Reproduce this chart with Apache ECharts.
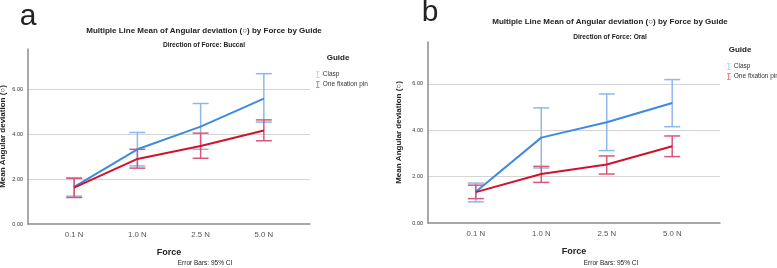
<!DOCTYPE html>
<html>
<head>
<meta charset="utf-8">
<script src="https://cdn.jsdelivr.net/npm/echarts@6/dist/echarts.min.js"></script>
<style>
  html, body { margin: 0; padding: 0; background: #fff; }
  #chart { width: 777px; height: 268px; }
</style>
</head>
<body>
<div id="chart"></div>
<script>
// 数据
var forces = ['0.1 N', '1.0 N', '2.5 N', '5.0 N'];
var guides = ['Clasp', 'One fixation pin'];

// a: Buccal
var buccalClaspMean = [1.65, 3.33, 4.34, 5.59];
var buccalClaspLow  = [1.24, 2.59, 3.33, 4.54];
var buccalClaspHigh = [2.05, 4.08, 5.37, 6.70];
var buccalPinMean   = [1.62, 2.90, 3.48, 4.17];
var buccalPinLow    = [1.18, 2.49, 2.93, 3.71];
var buccalPinHigh   = [2.04, 3.33, 4.05, 4.64];

// b: Oral
var oralClaspMean = [1.35, 3.68, 4.34, 5.17];
var oralClaspLow  = [0.91, 2.37, 3.12, 4.15];
var oralClaspHigh = [1.72, 4.96, 5.56, 6.18];
var oralPinMean   = [1.33, 2.11, 2.52, 3.31];
var oralPinLow    = [1.05, 1.75, 2.11, 2.86];
var oralPinHigh   = [1.63, 2.44, 2.89, 3.75];

var yTicks = [0, 2, 4, 6];

var blueLine = '#3f8ae0', blueBar = '#8fb8ea';
var redLine = '#d0122c', redBar = '#d9587a';
var font = '"Liberation Sans", Arial, sans-serif';

function points(mean){
    let out = [];
    for(let i=0;i<mean.length;i++){
        out.push([i, mean[i]]);
    }
    return out;
}
function bars(low, high){
    let out = [];
    for(let i=0;i<low.length;i++){
        out.push([i, low[i], high[i]]);
    }
    return out;
}

// 误差线
function errorSeries(name, idx, low, high, color){
    return {
        name: name,
        type: 'custom',
        xAxisIndex: idx,
        yAxisIndex: idx,
        z: 2,
        silent: true,
        encode: { x: 0, y: [1, 2] },
        data: bars(low, high),
        renderItem: function(params, api){
            let x = api.value(0);
            let lo = api.coord([x, api.value(1)]);
            let hi = api.coord([x, api.value(2)]);
            let w = 8;
            let st = { stroke: color, lineWidth: 1.5 };
            return {
                type: 'group',
                children: [
                    { type: 'line', shape: { x1: lo[0], y1: lo[1], x2: hi[0], y2: hi[1] }, style: st },
                    { type: 'line', shape: { x1: hi[0]-w, y1: hi[1], x2: hi[0]+w, y2: hi[1] }, style: st },
                    { type: 'line', shape: { x1: lo[0]-w, y1: lo[1], x2: lo[0]+w, y2: lo[1] }, style: st }
                ]
            };
        }
    };
}

function lineSeries(name, idx, mean, color){
    return {
        name: name,
        type: 'line',
        xAxisIndex: idx,
        yAxisIndex: idx,
        z: 3,
        symbol: 'none',
        silent: true,
        animation: false,
        lineStyle: { color: color, width: 2 },
        itemStyle: { color: color },
        data: points(mean)
    };
}

function xAxis(idx){
    return {
        type: 'value',
        gridIndex: idx,
        min: -0.73,
        max: 3.73,
        name: 'Force',
        nameLocation: 'middle',
        nameGap: 24,
        nameMoveOverlap: false,
        nameTextStyle: { color: '#222', fontSize: 9, fontWeight: 'bold', fontFamily: font },
        axisLine: { show: true, onZero: false, lineStyle: { color: '#8c8c8c', width: 1.5 } },
        axisTick: { show: false },
        splitLine: { show: false },
        axisLabel: {
            customValues: [0, 1, 2, 3],
            formatter: function(v){ return forces[Math.round(v)]; },
            color: '#555', fontSize: 7.8, margin: 7, fontFamily: font
        }
    };
}

function yAxis(idx, gap){
    return {
        type: 'value',
        gridIndex: idx,
        min: 0,
        max: 7.8,
        interval: 2,
        name: 'Mean Angular deviation (○)',
        nameLocation: 'middle',
        nameGap: gap,
        nameMoveOverlap: false,
        nameTextStyle: { color: '#222', fontSize: 8, fontWeight: 'bold', fontFamily: font },
        axisLine: { show: true, onZero: false, lineStyle: { color: '#8c8c8c', width: 1.5 } },
        axisTick: { show: false },
        splitLine: {
            show: true, showMinLine: false, showMaxLine: false,
            lineStyle: { color: '#d4d4d4', width: 1.2 }
        },
        axisLabel: {
            customValues: yTicks,
            formatter: function(v){ return v.toFixed(2); },
            color: '#333', fontSize: 5.5, margin: 5, fontFamily: font
        }
    };
}

function legend(left, top){
    return {
        left: left, top: top,
        orient: 'vertical',
        itemWidth: 4, itemHeight: 6,
        itemGap: 3,
        icon: 'path://M0,0H6V1H3.5V9H6V10H0V9H2.5V1H0Z',
        textStyle: { color: '#333', fontSize: 6.5, fontFamily: font, padding: [0, 0, 0, -2] },
        data: [
            { name: guides[0], itemStyle: { color: blueBar } },
            { name: guides[1], itemStyle: { color: redLine } }
        ]
    };
}

function text(x, y, str, size, bold){
    return {
        type: 'text', x: x, y: y,
        style: {
            text: str, fill: '#222', fontSize: size,
            fontWeight: bold ? 'bold' : 'normal', fontFamily: font,
            textAlign: 'center', textVerticalAlign: 'middle'
        }
    };
}

var myChart = echarts.init(document.getElementById('chart'));
myChart.setOption({
    animation: false,
    grid: [
        { left: 28, right: 467, top: 49, bottom: 44, outerBoundsMode: 'none' },
        { left: 428, right: 57, top: 42, bottom: 45, outerBoundsMode: 'none' }
    ],
    xAxis: [xAxis(0), xAxis(1)],
    yAxis: [yAxis(0, 21), yAxis(1, 25)],
    legend: [legend(311, 66), legend(722, 58)],
    graphic: [
        text(28, 17, 'a', 30, false),
        text(430, 13, 'b', 30, false),
        text(204, 31, 'Multiple Line Mean of Angular deviation (○) by Force by Guide', 8, true),
        text(204, 45, 'Direction of Force: Buccal', 6.6, true),
        text(610, 22, 'Multiple Line Mean of Angular deviation (○) by Force by Guide', 8, true),
        text(610, 37, 'Direction of Force: Oral', 6.6, true),
        text(338, 58, 'Guide', 8, true),
        text(740, 50, 'Guide', 8, true),
        text(205, 263, 'Error Bars: 95% CI', 6.5, false),
        text(611, 263, 'Error Bars: 95% CI', 6.5, false)
    ],
    series: [
        errorSeries(guides[0], 0, buccalClaspLow, buccalClaspHigh, blueBar),
        errorSeries(guides[1], 0, buccalPinLow, buccalPinHigh, redBar),
        lineSeries(guides[0], 0, buccalClaspMean, blueLine),
        lineSeries(guides[1], 0, buccalPinMean, redLine),
        errorSeries(guides[0], 1, oralClaspLow, oralClaspHigh, blueBar),
        errorSeries(guides[1], 1, oralPinLow, oralPinHigh, redBar),
        lineSeries(guides[0], 1, oralClaspMean, blueLine),
        lineSeries(guides[1], 1, oralPinMean, redLine)
    ]
});
</script>
</body>
</html>
